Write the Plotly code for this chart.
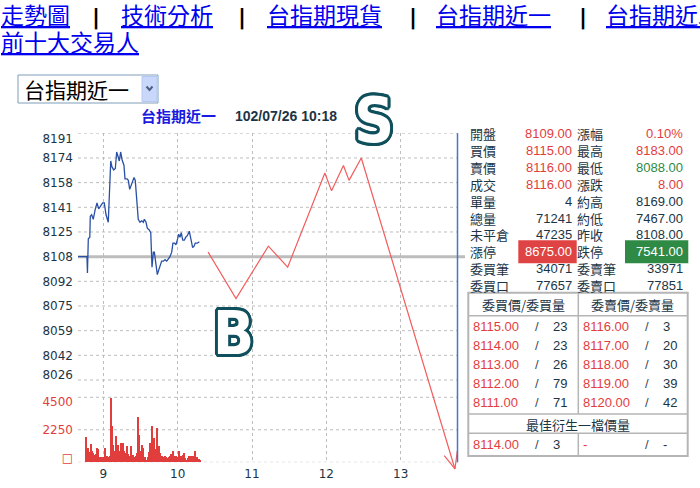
import math
import plotly.graph_objects as go

W, H = 700, 488

# ---------------- data ----------------
# intraday trades: minutes after the 08:45 open, traded price
price_min = [-5.7, 1.8, 2.2, 2.9, 4.1, 4.5, 5.6, 6.9, 8.3, 9.9, 11.3, 13.1, 14.5, 15.8, 17.2, 19.0,
             21.0, 22.0, 23.4, 24.7, 25.8, 26.9, 27.9, 29.0, 30.1, 31.7, 32.5, 34.1, 35.2, 36.3,
             37.9, 39.8, 40.8, 42.2, 43.2, 44.6, 46.0, 47.3, 48.1, 49.5, 50.5, 51.9, 53.3, 54.3,
             55.4, 56.2, 57.3, 58.6, 59.7, 60.8, 62.1, 63.4, 64.8, 66.2, 67.8, 68.8, 70.2, 71.2,
             72.6, 73.7, 75.0, 75.8, 76.9, 77.9, 79.1, 80.4, 81.5, 82.8, 84.4, 85.8, 87.1, 88.2,
             89.2, 90.9, 92.5]
price_val = [8108, 8108, 8097, 8120, 8121, 8135, 8136, 8133, 8139, 8144, 8140, 8142, 8144, 8144, 8136, 8131,
             8172, 8168, 8166, 8167, 8178, 8175, 8172, 8178, 8173, 8169, 8160, 8160, 8159, 8153,
             8157, 8161, 8159, 8146, 8133, 8131, 8132, 8131, 8133, 8131, 8127, 8126, 8124, 8101,
             8111, 8111, 8102, 8096, 8099, 8102, 8105, 8105, 8106, 8105, 8107, 8108, 8111, 8117,
             8117, 8116, 8120, 8123, 8121, 8124, 8119, 8119, 8121, 8122, 8125, 8119, 8114, 8115,
             8117, 8117, 8118]
prev_close = 8108

# per-minute volume, first bar at 08:46
vol_first_min = 1
volumes = [1753, 623, 969, 692, 1246, 784, 600, 461, 553, 969,
           900, 323, 277, 323, 369, 969, 369, 438, 323, 392,
           4450, 2468, 1199, 738, 1776, 623, 1199, 738, 1315, 969,
           1315, 784, 623, 1084, 553, 392, 1084, 392, 507, 323,
           392, 623, 3115, 1891, 784, 1199, 969, 277, 369, 161,
           323, 692, 1315, 2514, 623, 1661, 900, 2353, 969, 1084,
           623, 392, 277, 323, 392, 323, 277, 323, 438, 553,
           738, 392, 277, 392, 323, 738, 323, 438, 507, 623,
           277, 161, 277, 392, 277, 438, 392, 392, 738, 277,
           323, 230, 161]

# hand-drawn buy/sell sketch (hour of day, price)
sketch_hour = [10.41, 10.785, 11.22, 11.48, 11.98, 12.07, 12.23, 12.305, 12.47, 13.73]
sketch_price = [8111, 8080, 8115, 8101, 8164, 8152, 8169, 8159, 8174, 7966]
arrow_hour = [13.586, 13.73, 13.761]
arrow_price = [7975, 7966, 7978]

# axis ticks
price_ticks = [prev_close + 16.5 * k for k in range(-5, 6)]
price_tick_text = [str(int(v + 0.5)) for v in price_ticks]
vol_ticks = [0, 2250, 4500]
vol_tick_text = ["□", "2250", "4500"]
hour_ticks = [9, 10, 11, 12, 13]
hour_tick_text = ["9", "10", "11", "12", "13"]

# quote board
quote_rows = [
    ("開盤", "8109.00", "red", "漲幅", "0.10%", "red"),
    ("買價", "8115.00", "red", "最高", "8183.00", "red"),
    ("賣價", "8116.00", "red", "最低", "8088.00", "green"),
    ("成交", "8116.00", "red", "漲跌", "8.00", "red"),
    ("單量", "4", "dark", "約高", "8169.00", "dark"),
    ("總量", "71241", "dark", "約低", "7467.00", "dark"),
    ("未平倉", "47235", "dark", "昨收", "8108.00", "dark"),
    ("漲停", "8675.00", "redbox", "跌停", "7541.00", "greenbox"),
    ("委買筆", "34071", "dark", "委賣筆", "33971", "dark"),
    ("委買口", "77657", "dark", "委賣口", "77851", "dark"),
]
bid_price = ["8115.00", "8114.00", "8113.00", "8112.00", "8111.00"]
bid_qty = ["23", "23", "26", "79", "71"]
ask_price = ["8116.00", "8117.00", "8118.00", "8119.00", "8120.00"]
ask_qty = ["3", "20", "30", "39", "42"]
best_bid = ("8114.00", "3")
best_ask = ("-", "-")

nav_links = [("走勢圖", 0), ("技術分析", 119.6), ("台指期現貨", 265.6), ("台指期近一", 435), ("台指期近二", 605)]
nav_seps = [96.5, 242.4, 413, 582.6]

# ---------------- styling ----------------
DARK = "#1c3545"
RED = "#e23d3d"
GREEN = "#2f8a45"
GRID = "#bdbdbd"
CJK = "Noto Sans CJK TC"
LAT = "Liberation Sans"
AX = "DejaVu Sans"
COLORS = {"red": RED, "green": GREEN, "dark": DARK, "redbox": "white", "greenbox": "white"}


def X(px):
    return px / W


def Y(py):
    return 1 - py / H


# plot geometry (pixels)
PL, PR, PT, PB = 78, 458, 133.3, 462.3
PX_PER_HOUR = 74.35
X9 = 103.3
PX_PER_PT = (380 - PT) / 165.0
VOL_PER_PX = 4500 / 65.0

x_range = [9 + (PL - X9) / PX_PER_HOUR, 9 + (PR - X9) / PX_PER_HOUR]
price_range = [8190.5 - (PB - PT) / PX_PER_PT, 8190.5]
vol_range = [0, (PB - PT) * VOL_PER_PX]
SK_T, SK_B = 90, 482
sketch_range = [8190.5 - (SK_B - PT) / PX_PER_PT, 8190.5 + (PT - SK_T) / PX_PER_PT]

price_x = [8.75 + m / 60 for m in price_min]
vol_x = [8.75 + (vol_first_min + i) / 60 for i in range(len(volumes))]

fig = go.Figure()
fig.add_trace(go.Bar(x=vol_x, y=volumes, yaxis="y2", width=0.8 / 60,
                     marker=dict(color=RED, line=dict(width=0)), hoverinfo="skip"))
fig.add_trace(go.Scatter(x=price_x, y=price_val, mode="lines",
                         line=dict(color="#2a50a6", width=1.3), hoverinfo="skip"))
# empty carriers so the edge-label axes get drawn
for ax_name in ("y3", "y4", "y5", "y6"):
    fig.add_trace(go.Scatter(x=[], y=[], yaxis=ax_name, mode="lines", hoverinfo="skip"))
fig.add_trace(go.Scatter(x=sketch_hour, y=sketch_price, xaxis="x2", yaxis="y7", mode="lines",
                         line=dict(color="#f25c5c", width=1.2), hoverinfo="skip"))
fig.add_trace(go.Scatter(x=arrow_hour, y=arrow_price, xaxis="x2", yaxis="y7", mode="lines",
                         line=dict(color="#f25c5c", width=1.2), hoverinfo="skip"))

dom_x = [X(PL), X(PR)]
dom_y = [Y(PB), Y(PT)]
tickfont = dict(family=AX, size=12, color=DARK)
xgrid = dict(showgrid=True, gridcolor=GRID, gridwidth=1, griddash="dot", zeroline=False,
             showline=False, ticks="", automargin=False)
ygrid = dict(showgrid=False, zeroline=False, showline=False, ticks="", automargin=False)

main_text = [""] + price_tick_text[1:-1] + [""]
vol_main_text = ["", "2250", ""]


def end_axis(vals, text, rng, shift, color):
    # one label per axis so it can be nudged inside the panel
    return dict(overlaying="y", anchor="x", side="left", range=rng, tickvals=vals, ticktext=text,
                showgrid=False, zeroline=False, showline=False, ticks="", ticklabelstandoff=4,
                ticklabelshift=shift, tickfont=dict(family=AX, size=12, color=color), fixedrange=True,
                automargin=False)


fig.update_layout(
    width=W, height=H, margin=dict(l=0, r=0, t=0, b=0, autoexpand=False),
    paper_bgcolor="white", plot_bgcolor="rgba(0,0,0,0)", showlegend=False, bargap=0,
    xaxis=dict(domain=dom_x, range=x_range, tickvals=hour_ticks, ticktext=hour_tick_text,
               tickfont=tickfont, ticklabelstandoff=3, **xgrid),
    xaxis2=dict(domain=dom_x, range=x_range, anchor="y7", visible=False, automargin=False),
    yaxis=dict(domain=dom_y, range=price_range, tickvals=price_ticks, ticktext=main_text,
               tickfont=tickfont, ticklabelstandoff=4, **ygrid),
    yaxis2=dict(overlaying="y", anchor="x", side="left", range=vol_range, tickvals=vol_ticks,
                ticktext=vol_main_text, tickfont=dict(family=AX, size=12, color=RED),
                ticklabelstandoff=4, **ygrid),
    yaxis3=end_axis([price_ticks[-1]], [price_tick_text[-1]], price_range, 5, DARK),
    yaxis4=end_axis([price_ticks[0]], [price_tick_text[0]], price_range, -5, DARK),
    yaxis5=end_axis([4500], ["4500"], vol_range, 4, RED),
    yaxis6=end_axis([0], ["□"], vol_range, -5, RED),
    yaxis7=dict(domain=[Y(SK_B), Y(SK_T)], range=sketch_range, anchor="x2", visible=False,
                automargin=False),
)

shapes = []
ann = []

# horizontal dotted grid at every price and volume tick
for v in price_ticks:
    shapes.append(dict(type="line", xref="paper", yref="y", x0=X(PL), x1=X(PR), y0=v, y1=v,
                       line=dict(color=GRID, width=1, dash="dot"), layer="between"))
for v in vol_ticks:
    shapes.append(dict(type="line", xref="paper", yref="y2", x0=X(PL), x1=X(PR), y0=v, y1=v,
                       line=dict(color=GRID, width=1, dash="dot"), layer="between"))


def text(px, py, s, size=13, color=DARK, family=LAT, anchor="left", weight="normal", **font_extra):
    ann.append(dict(x=X(px), y=Y(py), xref="paper", yref="paper", text=s, showarrow=False,
                    xanchor=anchor, yanchor="middle", borderpad=0,
                    font=dict(size=size, color=color, family=family, weight=weight, **font_extra)))


def rect(x0, y0, x1, y1, line=None, fill=None, width=1, layer="above"):
    shapes.append(dict(type="rect", xref="paper", yref="paper", x0=X(x0), x1=X(x1), y0=Y(y0), y1=Y(y1),
                       line=dict(color=line or "rgba(0,0,0,0)", width=width if line else 0),
                       fillcolor=fill or "rgba(0,0,0,0)", layer=layer))


def hline(x0, x1, y, color, width=1):
    shapes.append(dict(type="line", xref="paper", yref="paper", x0=X(x0), x1=X(x1), y0=Y(y), y1=Y(y),
                       line=dict(color=color, width=width)))


def vline(x, y0, y1, color, width=1):
    shapes.append(dict(type="line", xref="paper", yref="paper", x0=X(x), x1=X(x), y0=Y(y0), y1=Y(y1),
                       line=dict(color=color, width=width)))


# previous close reference line and right border of the chart
shapes.append(dict(type="line", xref="paper", yref="y", x0=X(PL), x1=X(465), y0=prev_close, y1=prev_close,
                   line=dict(color="#bdbdbd", width=3), layer="between"))
vline(457.5, PT, PB, "#4a74c4", 1.5)

# navigation links
for label, left in nav_links:
    text(left, 14.5, label, size=23, color="#0000ee", family=CJK, lineposition="under")
for sx in nav_seps:
    text(sx, 17, "|", size=22, color="black", family=AX, anchor="center", weight="bold")
text(0, 41.5, "前十大交易人", size=23, color="#0000ee", family=CJK, lineposition="under")

# contract selector
rect(18, 75, 158, 103, line="#7f9db9", fill="white")
text(23, 89, "台指期近一", size=21, color="black", family=CJK)
rect(142, 76.5, 157, 101.5, line="#b6c8f2", fill="#c8d7fa")
shapes.append(dict(type="path", xref="paper", yref="paper",
                   path=f"M{X(146.5)},{Y(86.5)} L{X(149.5)},{Y(90)} L{X(152.5)},{Y(86.5)}",
                   line=dict(color="#4d6185", width=2)))

# chart heading
text(140, 116, "台指期近一", size=15, color="#1a1ae0", family=CJK, weight="bold")
text(234, 116, "102/07/26 10:18", size=14, color=DARK, family=LAT, weight="bold")

# sketch letters
ring = ", ".join(f"{3 * math.cos(a * math.pi / 8):.2f}px {3 * math.sin(a * math.pi / 8):.2f}px 0 #10505d"
                 for a in range(16))
text(233, 333, "B", size=60, color="white", family="DejaVu Sans Condensed", anchor="center", weight="bold",
     shadow=ring)
text(374, 120, "S", size=62, color="white", family="DejaVu Sans Condensed", anchor="center", weight="bold",
     shadow=ring)

# quote board
for i, (l1, v1, c1, l2, v2, c2) in enumerate(quote_rows):
    ry = 133.5 + 16.9 * i
    if c1 == "redbox":
        rect(518.3, ry - 11.5, 576.7, ry + 11.5, fill="#e04343", layer="below")
    if c2 == "greenbox":
        rect(625, ry - 11.5, 688.3, ry + 11.5, fill="#2f8a46", layer="below")
    text(469, ry, l1, size=13, family=CJK)
    text(573, ry, v1, size=13, color=COLORS[c1], anchor="right")
    text(576, ry, l2, size=13, family=CJK)
    text(683.5, ry, v2, size=13, color=COLORS[c2], anchor="right")

# order book
TB_L, TB_R, TB_M = 468.3, 687.7, 578.3
TB_T, TB_H, TB_S, TB_D, TB_B = 292.7, 315.7, 414, 433.3, 456
BORDER = "#b5b5b5"
rect(TB_L, TB_T, TB_R, TB_B, line=BORDER, width=2)
hline(TB_L, TB_R, TB_H, BORDER, 1.5)
hline(TB_L, TB_R, TB_S, BORDER, 1.5)
hline(TB_L, TB_R, TB_D, BORDER, 1.5)
vline(TB_M, TB_T, TB_S, BORDER, 1.5)
vline(TB_M, TB_D, TB_B, BORDER, 1.5)
text(523.3, 304.2, "委買價/委買量", size=13, family=CJK, anchor="center")
text(632.7, 304.2, "委賣價/委賣量", size=13, family=CJK, anchor="center")
for i in range(5):
    ry = 326 + 19 * i
    text(471.5, ry, bid_price[i], color=RED)
    text(536.7, ry, "/", color="#3a4a55", anchor="center")
    text(552, ry, bid_qty[i])
    text(581.5, ry, ask_price[i], color=RED)
    text(646.7, ry, "/", color="#3a4a55", anchor="center")
    text(662, ry, ask_qty[i])
text(578, 424.3, "最佳衍生一檔價量", size=13, family=CJK, anchor="center")
text(471.5, 444, best_bid[0], color=RED)
text(536.7, 444, "/", color="#3a4a55", anchor="center")
text(552, 444, best_bid[1])
text(581.5, 444, best_ask[0], color=RED)
text(646.7, 444, "/", color="#3a4a55", anchor="center")
text(662, 444, best_ask[1])

fig.update_layout(shapes=shapes, annotations=ann)
fig.write_html("out.html")
